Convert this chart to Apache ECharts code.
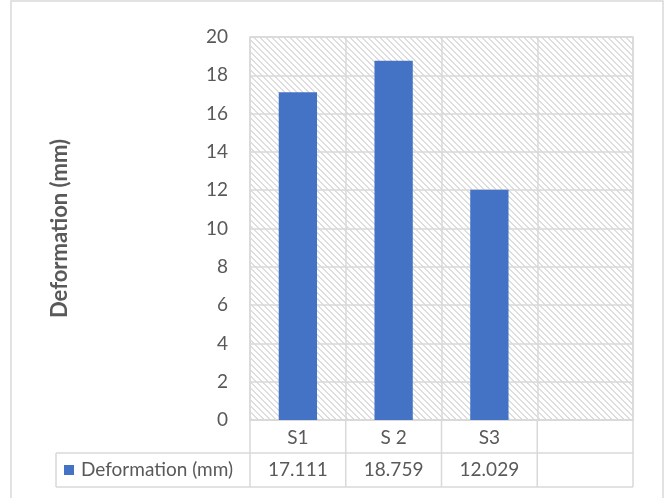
<!DOCTYPE html>
<html lang="en">
<head>
    <meta charset="UTF-8">
    <title>Deformation</title>
    <script type="text/javascript" src="https://cdn.jsdelivr.net/npm/echarts@6/dist/echarts.min.js"></script>
    <style>
        html, body { margin: 0; padding: 0; background: #fff; }
    </style>
</head>
<body>
<div id="chartmain" style="width:668px;height:498px"></div>
<script>
    var categories = ['S1', 'S 2', 'S3', ''];
    var values = [17.111, 18.759, 12.029, null];
    var tableValues = ['17.111', '18.759', '12.029', ''];
    var seriesName = 'Deformation (mm)';

    var FONT = 'Lato, "Open Sans", sans-serif';
    var TXT = '#595959';
    var LINE = '#d9d9d9';

    // hatch background of the plot area
    var hatch = document.createElement('canvas');
    hatch.width = 6;
    hatch.height = 6;
    var hc = hatch.getContext('2d');
    hc.fillStyle = '#ffffff';
    hc.fillRect(0, 0, 6, 6);
    hc.fillStyle = '#dedede';
    for (var i = 0; i < 6; i++) {
        hc.fillRect(i, i, 1, 1);
        hc.fillRect((i + 1) % 6, i, 1, 1);
    }

    var option = {
        animation: false,
        backgroundColor: '#fff',
        grid: {
            left: 250, right: 35, top: 37, bottom: 78,
            show: true,
            backgroundColor: {image: hatch, repeat: 'repeat'},
            borderColor: LINE,
            borderWidth: 1.5
        },
        xAxis: {
            type: 'category',
            data: categories,
            axisLine: {lineStyle: {color: LINE, width: 1.5}},
            axisTick: {show: false},
            splitLine: {show: true, interval: 0, lineStyle: {color: LINE, width: 1.5}},
            axisLabel: {interval: 0, margin: 8, fontSize: 19, color: TXT, fontFamily: FONT}
        },
        yAxis: {
            type: 'value',
            min: 0, max: 20, interval: 2,
            name: seriesName,
            nameLocation: 'middle',
            nameRotate: 90,
            nameGap: 179,
            nameTextStyle: {fontSize: 22, fontWeight: 'bold', color: TXT, fontFamily: FONT},
            axisLine: {show: false},
            axisTick: {show: false},
            splitLine: {lineStyle: {color: LINE, width: 1.5}},
            axisLabel: {margin: 22, fontSize: 19, color: TXT, fontFamily: FONT}
        },
        series: [{
            name: seriesName,
            type: 'bar',
            data: values,
            barWidth: '40%',
            itemStyle: {color: '#4472c4'}
        }]
    };

    var myChart = echarts.init(document.getElementById('chartmain'));
    myChart.setOption(option);

    // data table under the plot, positioned from the axis scale
    var n = categories.length;
    var bounds = [];
    var first = myChart.convertToPixel({xAxisIndex: 0}, 0);
    var second = myChart.convertToPixel({xAxisIndex: 0}, 1);
    var step = second - first;
    for (var k = 0; k <= n; k++) bounds.push(first - step / 2 + k * step);
    var y0 = myChart.convertToPixel({yAxisIndex: 0}, 0);
    var row1 = y0 + 33, row2 = y0 + 67;
    var tableLeft = 56;

    var g = [];
    function line(x1, y1, x2, y2) {
        g.push({type: 'line', shape: {x1: x1, y1: y1, x2: x2, y2: y2},
            style: {stroke: LINE, lineWidth: 1.5}, silent: true});
    }
    // outer chart border
    g.push({type: 'rect', shape: {x: 11, y: 1, width: 652, height: 520},
        style: {fill: null, stroke: LINE, lineWidth: 1.5}, silent: true, z: -1});
    for (var k = 0; k <= n; k++) line(bounds[k], y0, bounds[k], row2);
    line(tableLeft, row1, bounds[n], row1);
    line(tableLeft, row2, bounds[n], row2);
    line(tableLeft, row1, tableLeft, row2);
    var midRow2 = (row1 + row2) / 2;
    g.push({type: 'rect', shape: {x: 64, y: midRow2 - 5, width: 10, height: 10},
        style: {fill: '#4472c4'}, silent: true});
    g.push({type: 'text', x: 81, y: midRow2, style: {text: seriesName, fontSize: 19,
        fontFamily: FONT, fill: TXT, verticalAlign: 'middle', align: 'left'}, silent: true});
    for (var k = 0; k < n; k++) {
        g.push({type: 'text', x: (bounds[k] + bounds[k + 1]) / 2, y: midRow2,
            style: {text: tableValues[k], fontSize: 19, fontFamily: FONT, fill: TXT,
                verticalAlign: 'middle', align: 'center'}, silent: true});
    }
    myChart.setOption({graphic: g});
</script>
</body>
</html>
